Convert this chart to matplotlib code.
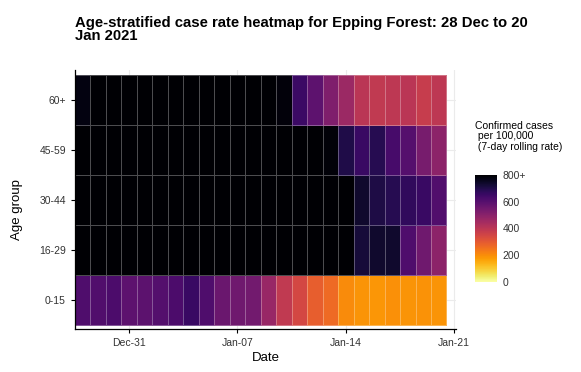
import numpy as np
import pandas as pd
import matplotlib
matplotlib.use("Agg")
import matplotlib.pyplot as plt
import matplotlib.dates as mdates
from matplotlib.colors import Normalize

plt.rcParams['font.family'] = ['Liberation Sans', 'DejaVu Sans']

dates = pd.date_range("2020-12-28", "2021-01-20", freq="D")
age_groups = ["0-15", "16-29", "30-44", "45-59", "60+"]

# 7-day rolling rate per 100,000, one row per age group (values above 800 shown as 800+)
rate_0_15 = [615, 610, 620, 585, 590, 605, 620, 655, 615, 560, 550, 545,
             470, 390, 345, 290, 265, 205, 190, 185, 195, 188, 192, 188]
rate_16_29 = [980, 1010, 1040, 1060, 1090, 1100, 1120, 1110, 1080, 1050, 1000, 960,
              930, 900, 880, 860, 840, 820, 720, 735, 735, 615, 550, 495]
rate_30_44 = [1000, 1030, 1060, 1090, 1120, 1140, 1150, 1130, 1100, 1060, 1010, 970,
              940, 910, 880, 860, 840, 815, 735, 705, 690, 670, 655, 610]
rate_45_59 = [950, 980, 1010, 1040, 1070, 1090, 1100, 1080, 1050, 1010, 970, 930,
              900, 870, 850, 825, 790, 700, 655, 690, 630, 600, 535, 495]
rate_60 = [775, 830, 860, 890, 920, 940, 950, 960, 940, 910, 880, 850,
           820, 785, 650, 585, 520, 465, 400, 390, 395, 400, 375, 395]

rates = np.array([rate_0_15, rate_16_29, rate_30_44, rate_45_59, rate_60])

fig = plt.figure(figsize=(5.81, 3.72), dpi=100)
ax = fig.add_axes([0.129, 0.1156, 0.656, 0.6962])

x_edges = mdates.date2num(dates) - 0.5
x_edges = np.append(x_edges, x_edges[-1] + 1)
y_edges = np.arange(len(age_groups) + 1) - 0.5

norm = Normalize(vmin=0, vmax=800, clip=True)
cmap = plt.get_cmap("inferno_r")
mesh = ax.pcolormesh(x_edges, y_edges, rates, cmap=cmap, norm=norm,
                     edgecolors=(1, 1, 1, 0.3), linewidth=0.6, zorder=2)

ax.set_xlim(x_edges[0], mdates.date2num(pd.Timestamp("2021-01-21")) + 0.12)
ax.set_ylim(-0.58, 4.6)
ax.set_yticks(range(len(age_groups)))
ax.set_yticklabels(age_groups)
ticks = pd.to_datetime(["2020-12-31", "2021-01-07", "2021-01-14", "2021-01-21"])
ax.set_xticks(mdates.date2num(ticks))
ax.set_xticklabels([t.strftime("%b-%d") for t in ticks])

ax.grid(True, color="#ebebeb", linewidth=0.8, zorder=0)
ax.set_axisbelow(True)
for s in ["top", "right"]:
    ax.spines[s].set_visible(False)
for s in ["left", "bottom"]:
    ax.spines[s].set_color("black")
    ax.spines[s].set_linewidth(0.9)
ax.tick_params(axis="both", labelsize=7.5, labelcolor="#333333", length=3, width=0.8)

ax.set_xlabel("Date", fontsize=9.5, labelpad=3)
ax.set_ylabel("Age group", fontsize=9.5)
ax.yaxis.set_label_coords(-0.135, 0.46)

fig.text(0.129, 0.957, "Age-stratified case rate heatmap for Epping Forest: 28 Dec to 20\nJan 2021",
         fontsize=10.7, fontweight="bold", va="top", ha="left", linespacing=0.9)

cax = fig.add_axes([0.8176, 0.242, 0.038, 0.288])
cb = fig.colorbar(mesh, cax=cax, ticks=[0, 200, 400, 600, 800])
cb.ax.set_yticklabels(["0", "200", "400", "600", "800+"])
cb.outline.set_visible(False)
cb.ax.tick_params(labelsize=7.5, labelcolor="#333333", length=0, pad=4)
fig.text(0.8176, 0.675, "Confirmed cases\n per 100,000\n (7-day rolling rate)",
         fontsize=7.5, va="top", ha="left", linespacing=1.05)

fig.savefig("out.png", dpi=100)
